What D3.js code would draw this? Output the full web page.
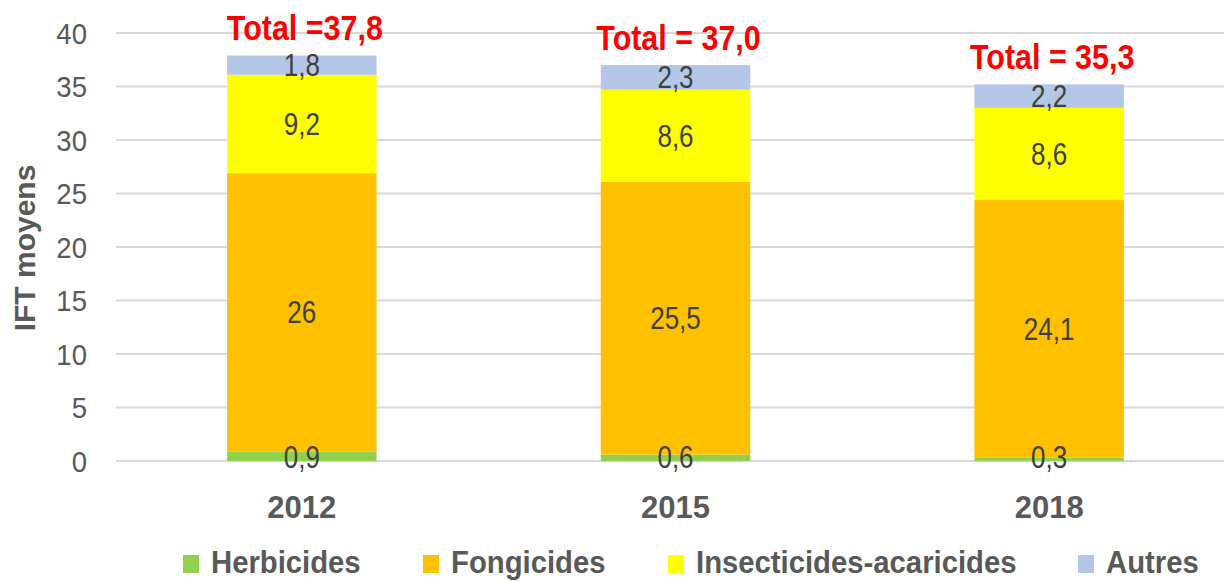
<!DOCTYPE html>
<html><head><meta charset="utf-8">
<script src="https://cdn.jsdelivr.net/npm/d3@7"></script>
<style>body{margin:0;background:#fff}svg{display:block}</style>
</head><body>
<svg id="c" width="1224" height="581"></svg>
<script>
const years = ["2012", "2015", "2018"];
const seriesNames = ["Herbicides", "Fongicides", "Insecticides-acaricides", "Autres"];
const herbicides = [0.9, 0.6, 0.3];
const fongicides = [26, 25.5, 24.1];
const insecticides = [9.2, 8.6, 8.6];
const autres = [1.8, 2.3, 2.2];
const valueLabels = [["0,9","0,6","0,3"],["26","25,5","24,1"],["9,2","8,6","8,6"],["1,8","2,3","2,2"]];
const totalLabels = ["Total =37,8", "Total = 37,0", "Total = 35,3"];
const yTicks = [0, 5, 10, 15, 20, 25, 30, 35, 40];
const colors = ["#92D050", "#FFC000", "#FFFF00", "#B4C7E7"];

const font = "'Liberation Sans',Arial,sans-serif";
const svg = d3.select("#c");
const m = {left: 116, right: 1236, top: 33, bottom: 461};
const x = d3.scaleBand().domain(years).range([115, 1236]).paddingInner(0.6).paddingOuter(0.3);
const y = d3.scaleLinear().domain([0, 40]).range([m.bottom, m.top]);

const rows = years.map((yr, i) => ({year: yr, Herbicides: herbicides[i], Fongicides: fongicides[i], "Insecticides-acaricides": insecticides[i], Autres: autres[i]}));
const stack = d3.stack().keys(seriesNames)(rows);

// helper: place text with horizontal compression
function place(sel, fx, fy, sx) {
  sel.attr("x", 0).attr("y", 0)
     .attr("transform", (d, i) => `translate(${fx(d, i)},${fy(d, i)}) scale(${sx},1)`);
  return sel;
}

// gridlines
svg.append("g").selectAll("line").data(yTicks).join("line")
  .attr("x1", m.left).attr("x2", 1224)
  .attr("y1", d => y(d)).attr("y2", d => y(d))
  .attr("stroke", "#D9D9D9").attr("stroke-width", 2);

// y axis labels
const yAxis = d3.axisLeft(y).tickValues(yTicks).tickSize(0).tickPadding(0).tickFormat(d3.format("d"));
const ga = svg.append("g").attr("transform", `translate(87,0)`).call(yAxis);
ga.select(".domain").remove();
ga.selectAll("text").attr("font-family", font).attr("font-size", 29).attr("fill", "#595959")
  .attr("dy", "0.35em").attr("transform", "scale(0.95,1)");

// y title
svg.append("text").attr("transform", `translate(35,248) rotate(-90)`)
  .attr("text-anchor", "middle").attr("font-family", font).attr("font-weight", "bold")
  .attr("font-size", 30).attr("fill", "#595959").text("IFT moyens");

// bars
const layers = svg.append("g").selectAll("g").data(stack).join("g").attr("fill", (d, i) => colors[i]);
layers.selectAll("rect").data(d => d).join("rect")
  .attr("x", d => x(d.data.year)).attr("width", x.bandwidth())
  .attr("y", d => y(d[1])).attr("height", d => y(d[0]) - y(d[1]));

// value labels
stack.forEach((layer, si) => {
  place(svg.append("g").selectAll("text").data(layer).join("text"),
        d => x(d.data.year) + x.bandwidth() / 2,
        d => si === 0 ? y(0) - 4 : (y(d[0]) + y(d[1])) / 2, 0.84)
    .attr("dy", "0.35em").attr("text-anchor", "middle")
    .attr("font-family", font).attr("font-size", 31).attr("fill", "#404040")
    .text((d, i) => valueLabels[si][i]);
});

// totals
const tops = stack[stack.length - 1];
place(svg.append("g").selectAll("text").data(tops).join("text"),
      d => x(d.data.year) + x.bandwidth() / 2 + 3,
      d => y(d[1]) - 15, 0.87)
  .attr("text-anchor", "middle").attr("font-family", font).attr("font-weight", "bold")
  .attr("font-size", 35).attr("fill", "#FF0000")
  .text((d, i) => totalLabels[i]);

// x labels
place(svg.append("g").selectAll("text").data(years).join("text"),
      d => x(d) + x.bandwidth() / 2, () => 518, 0.97)
  .attr("text-anchor", "middle").attr("font-family", font).attr("font-weight", "bold")
  .attr("font-size", 32).attr("fill", "#595959").text(d => d);

// legend
const legX = [183, 423, 668, 1078];
const lg = svg.append("g").selectAll("g").data(seriesNames).join("g")
  .attr("transform", (d, i) => `translate(${legX[i]},573)`);
lg.append("rect").attr("x", 0).attr("y", -18).attr("width", 16).attr("height", 18).attr("fill", (d, i) => colors[i]);
lg.append("text").attr("transform", "translate(28,0) scale(0.915,1)")
  .attr("font-family", font).attr("font-weight", "bold").attr("font-size", 32).attr("fill", "#595959").text(d => d);
</script>
</body></html>
